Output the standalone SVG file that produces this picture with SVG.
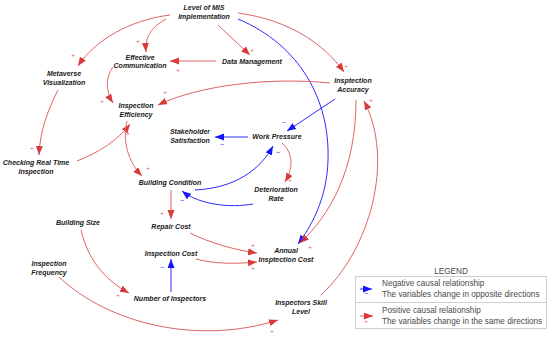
<svg xmlns="http://www.w3.org/2000/svg" width="550" height="342" viewBox="0 0 550 342">
<defs>
<marker id="ar" markerUnits="userSpaceOnUse" markerWidth="10" markerHeight="8" refX="9" refY="3.5" orient="auto"><path d="M0,0 L9,3.5 L0,7 z" fill="#d83a3a"/></marker>
<marker id="ab" markerUnits="userSpaceOnUse" markerWidth="10" markerHeight="8" refX="9" refY="3.5" orient="auto"><path d="M0,0 L9,3.5 L0,7 z" fill="#1414ff"/></marker>
</defs>
<style>
.n{font-family:"Liberation Sans",Arial,sans-serif;font-size:7px;font-weight:bold;font-style:italic;fill:#1a1a1a;text-anchor:middle}
.r{fill:none;stroke:#e06464;stroke-width:1;marker-end:url(#ar)}
.b{fill:none;stroke:#2a2aff;stroke-width:1;marker-end:url(#ab)}
.p{font-family:"Liberation Sans",Arial,sans-serif;font-size:6px;fill:#e05050;text-anchor:middle}
.m{font-family:"Liberation Sans",Arial,sans-serif;font-size:7px;fill:#2a2aff;text-anchor:middle}
.l{font-family:"Liberation Sans",Arial,sans-serif;font-size:8.2px;fill:#4a4a4a}
</style>
<rect width="550" height="342" fill="#fff"/>
<g id="connectors">
<path class="r" d="M170,15 C130,20 95,40 78,66"/>
<path class="r" d="M166,19 C150,28 145,38 146,52"/>
<path class="r" d="M218,25 L250,55"/>
<path class="r" d="M238,13 C290,20 325,45 344,72"/>
<path class="b" d="M238,19 C300,45 330,100 328,160 C327,200 310,228 298,244"/>
<path class="r" d="M356,100 C356,170 330,215 300,243"/>
<path class="r" d="M330,83 C270,77 200,85 158,105"/>
<path class="r" d="M216,61 L170,61"/>
<path class="r" d="M113,67 C105,78 106,92 113,103"/>
<path class="r" d="M58,90 C48,110 40,130 39,155"/>
<path class="r" d="M77,161 C100,152 118,140 130,124"/>
<path class="r" d="M127,121 C122,140 128,162 142,176"/>
<path class="r" d="M171,190 L171,219"/>
<path class="b" d="M248,137 L215,137"/>
<path class="b" d="M335,99 L287,131"/>
<path class="b" d="M195,190 C235,188 260,170 273,146"/>
<path class="r" d="M282,143 C295,155 292,170 285,182"/>
<path class="b" d="M253,204 C230,208 200,205 182,191"/>
<path class="r" d="M190,233 C210,243 235,250 257,253"/>
<path class="r" d="M196,259 C215,264 235,264 257,262"/>
<path class="b" d="M171,292 L171,259"/>
<path class="r" d="M81,230 C88,260 105,280 129,293"/>
<path class="r" d="M59,277 C110,325 200,345 278,320"/>
<path class="r" d="M321,295 C370,250 395,160 364,101"/>
<g id="polarity">
<text class="p" x="73" y="57">+</text>
<text class="p" x="138" y="43">+</text>
<text class="p" x="252" y="52">+</text>
<text class="p" x="346" y="68">+</text>
<text class="m" x="303" y="242">−</text>
<text class="p" x="310" y="249">+</text>
<text class="p" x="165" y="94">+</text>
<text class="p" x="178" y="72">+</text>
<text class="p" x="102" y="103">+</text>
<text class="p" x="32" y="150">+</text>
<text class="p" x="128" y="135">+</text>
<text class="p" x="148" y="170">+</text>
<text class="p" x="162" y="215">+</text>
<text class="m" x="222" y="147">−</text>
<text class="m" x="284" y="125">−</text>
<text class="m" x="278" y="155">−</text>
<text class="p" x="290" y="182">+</text>
<text class="m" x="182" y="203">−</text>
<text class="p" x="253" y="247">+</text>
<text class="p" x="253" y="270">+</text>
<text class="m" x="162" y="270">−</text>
<text class="p" x="118" y="297">+</text>
<text class="p" x="272" y="333">+</text>
<text class="p" x="371" y="102">+</text>
</g>
</g>
<g id="n-mis"><text class="n" x="204" y="10">Level of MIS</text><text class="n" x="204" y="19">Implementation</text></g>
<g id="n-effcomm"><text class="n" x="140" y="60">Effective</text><text class="n" x="140" y="68">Communication</text></g>
<g id="n-data"><text class="n" x="252" y="64">Data Management</text></g>
<g id="n-meta"><text class="n" x="64" y="76">Metaverse</text><text class="n" x="64" y="85">Visualization</text></g>
<g id="n-inseff"><text class="n" x="136" y="108">Inspection</text><text class="n" x="136" y="117">Efficiency</text></g>
<g id="n-acc"><text class="n" x="353" y="83">Insptection</text><text class="n" x="353" y="92">Accuracy</text></g>
<g id="n-stake"><text class="n" x="190" y="134">Stakeholder</text><text class="n" x="190" y="143">Satisfaction</text></g>
<g id="n-work"><text class="n" x="277" y="139">Work Pressure</text></g>
<g id="n-check"><text class="n" x="36" y="165">Checking Real Time</text><text class="n" x="36" y="174">Inspection</text></g>
<g id="n-bcond"><text class="n" x="170" y="185">Building Condition</text></g>
<g id="n-det"><text class="n" x="276" y="192">Deterioration</text><text class="n" x="276" y="201">Rate</text></g>
<g id="n-bsize"><text class="n" x="78" y="225">Building Size</text></g>
<g id="n-repair"><text class="n" x="171" y="229">Repair Cost</text></g>
<g id="n-inscost"><text class="n" x="171" y="256">Inspection Cost</text></g>
<g id="n-freq"><text class="n" x="49" y="266">Inspection</text><text class="n" x="49" y="275">Frequency</text></g>
<g id="n-numins"><text class="n" x="170" y="301">Number of Inspectors</text></g>
<g id="n-annual"><text class="n" x="286" y="253">Annual</text><text class="n" x="286" y="262">Insptection Cost</text></g>
<g id="n-skill"><text class="n" x="301" y="305">Inspectors Skill</text><text class="n" x="301" y="314">Level</text></g>
<g id="legend">
<text class="l" x="451" y="274" text-anchor="middle">LEGEND</text>
<rect x="355.5" y="276.5" width="191" height="52" fill="none" stroke="#d0d0d0"/>
<line x1="355.5" y1="302.5" x2="546.5" y2="302.5" stroke="#d0d0d0"/>
<path class="b" d="M360,289 L372,289"/>
<text class="m" x="366" y="296">−</text>
<path class="r" d="M360,316 L373,316"/>
<text class="p" x="366" y="323">+</text>
<text class="l" x="382" y="286">Negative causal relationship</text>
<text class="l" x="382" y="297">The variables change in opposite directions</text>
<text class="l" x="382" y="313">Positive causal relationship</text>
<text class="l" x="382" y="324">The variables change in the same directions</text>
</g>
</svg>
